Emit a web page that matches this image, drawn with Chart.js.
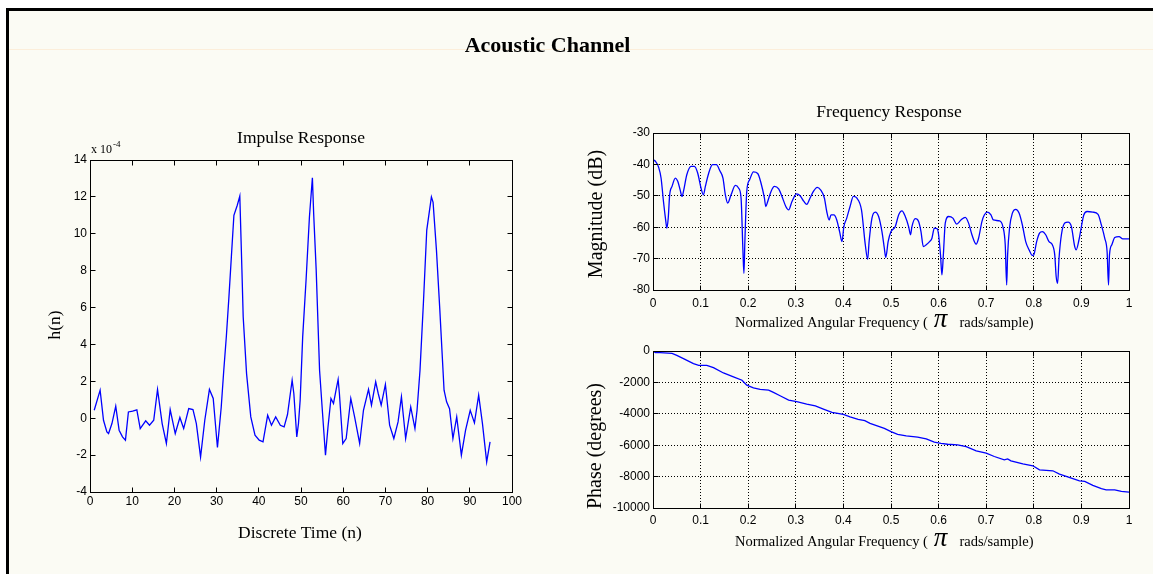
<!DOCTYPE html>
<html>
<head>
<meta charset="utf-8">
<title>Acoustic Channel</title>
<script src="https://cdn.jsdelivr.net/npm/chart.js@4.4.1/dist/chart.umd.min.js"></script>
<style>
  html, body { margin: 0; padding: 0; width: 1153px; height: 574px; overflow: hidden; background: #ffffff; }
  #frame {
    position: absolute; left: 6px; top: 8px; width: 1147px; height: 566px;
    box-sizing: border-box; border-top: 3px solid #000; border-left: 3px solid #000;
    background: #fbfbf4;
  }
  #rule { position: absolute; left: 0; right: 0; top: 38px; height: 1px; background: rgba(255, 210, 160, 0.3); }
  canvas { position: absolute; left: 0; top: 0; }
</style>
</head>
<body>
<div id="frame"><div id="rule"></div></div>
<canvas id="impulse" width="1153" height="574" style="width:1153px;height:574px"></canvas>
<canvas id="magnitude" width="1153" height="574" style="width:1153px;height:574px"></canvas>
<canvas id="phase" width="1153" height="574" style="width:1153px;height:574px"></canvas>
<script>
// ---- Impulse response h(n), values in units of 1e-4 ----
const impulseN = [
  1.0, 2.4, 3.2, 4.0, 4.4, 5.2, 6.1, 6.9, 7.7, 8.4, 9.1, 10.1, 11.1, 11.9, 13.2, 14.1, 15.1, 16.0,
  17.1, 18.1, 19.0, 20.2, 21.3, 22.2, 23.4, 24.4, 25.2, 26.2, 27.2, 28.3, 29.2, 30.2, 31.1, 31.7,
  32.3, 32.9, 33.5, 34.1, 34.9, 35.5, 36.0, 36.3, 37.1, 38.1, 39.1, 40.1, 41.0, 42.1, 43.0, 44.0,
  45.1, 46.0, 46.8, 47.9, 48.3, 49.0, 49.4, 49.8, 50.4, 51.2, 52.0, 52.7, 53.0, 53.6, 54.4, 55.0,
  55.8, 56.4, 57.1, 57.7, 58.3, 58.8, 59.1, 59.9, 60.7, 61.8, 62.7, 63.9, 64.8, 66.0, 66.7, 67.7,
  68.3, 69.0, 70.0, 71.0, 72.0, 73.0, 73.8, 74.8, 76.0, 77.0, 77.5, 78.2, 79.0, 79.8, 80.9, 81.3,
  82.1, 82.9, 83.9, 84.5, 85.2, 86.0, 86.9, 88.0, 89.0, 90.1, 91.1, 92.1, 93.0, 94.0, 94.8
];
const impulseH = [
  0.43, 1.52, -0.11, -0.74, -0.83, -0.29, 0.65, -0.65, -1.01, -1.19, 0.34, 0.38, 0.45, -0.56, -0.14, -0.38, -0.11, 1.56,
  -0.29, -1.37, 0.47, -0.83, 0.04, -0.56, 0.52, 0.47, -0.29, -2.1, -0.11, 1.56, 1.07, -1.59, 0.61, 2.6,
  4.4, 6.5, 8.75, 11.0, 11.55, 12.04, 8.03, 5.5, 2.42, 0.07, -0.92, -1.19, -1.28, 0.16, -0.38, 0.07,
  -0.38, -0.47, 0.2, 2.06, 1.34, -1.01, -0.29, 0.98, 4.41, 7.49, 10.92, 13.04, 11.1, 8.03, 2.6, 0.61,
  -2.01, -0.47, 1.07, 0.8, 1.52, 2.1, 1.34, -1.37, -1.1, 1.07, 0.07, -1.37, 0.43, 1.56, 0.71, 1.97,
  1.34, 0.71, 1.83, -0.38, -1.1, -0.2, 1.16, -1.1, 0.61, -0.56, 0.43, 2.6, 6.22, 10.2, 12.0, 11.7,
  9.1, 5.86, 1.52, 0.89, 0.52, -1.1, 0.07, -2.0, -0.65, 0.43, -0.25, 1.25, -0.29, -2.37, -1.28
];
const impulseXTicks = { min: 0, max: 100, step: 10 };
const impulseYTicks = { min: -4, max: 14, step: 2 };

// ---- Frequency response magnitude (dB) vs normalized angular frequency ----
const magFreq = [
  0.000, 0.005, 0.012, 0.017, 0.022, 0.027, 0.029, 0.032, 0.035, 0.040, 0.047, 0.052, 0.057, 0.061, 0.064,
  0.071, 0.080, 0.087, 0.094, 0.101, 0.106, 0.110, 0.117, 0.125, 0.133, 0.141, 0.147, 0.152, 0.157, 0.164,
  0.173, 0.180, 0.185, 0.189, 0.191, 0.193, 0.197, 0.203, 0.211, 0.220, 0.227, 0.234, 0.237, 0.241, 0.248,
  0.255, 0.264, 0.271, 0.279, 0.285, 0.292, 0.302, 0.309, 0.317, 0.323, 0.330, 0.337, 0.345, 0.352, 0.360,
  0.365, 0.370, 0.374, 0.380, 0.386, 0.392, 0.397, 0.401, 0.407, 0.414, 0.421, 0.428, 0.438, 0.446, 0.451,
  0.454, 0.460, 0.467, 0.474, 0.481, 0.486, 0.489, 0.494, 0.500, 0.509, 0.516, 0.523, 0.530, 0.537, 0.541,
  0.544, 0.551, 0.558, 0.563, 0.568, 0.574, 0.581, 0.586, 0.591, 0.597, 0.600, 0.604, 0.607, 0.610, 0.614,
  0.621, 0.630, 0.638, 0.647, 0.656, 0.663, 0.670, 0.679, 0.684, 0.691, 0.696, 0.703, 0.710, 0.715, 0.728,
  0.735, 0.740, 0.743, 0.745, 0.749, 0.755, 0.762, 0.769, 0.776, 0.783, 0.790, 0.797, 0.800, 0.806, 0.812,
  0.818, 0.825, 0.832, 0.839, 0.844, 0.847, 0.850, 0.853, 0.858, 0.865, 0.872, 0.879, 0.886, 0.889, 0.895,
  0.900, 0.905, 0.912, 0.924, 0.935, 0.942, 0.949, 0.954, 0.957, 0.959, 0.964, 0.970, 0.979, 0.987, 1.000
];
const magDb = [
  -38.5, -39.0, -41.0, -44.4, -51.8, -58.2, -60.3, -57.1, -49.7, -47.0, -44.4, -45.4, -48.1, -50.2, -48.6,
  -43.3, -40.6, -40.6, -42.8, -47.6, -49.7, -47.0, -42.8, -40.1, -40.1, -42.2, -44.4, -49.7, -52.3, -49.7,
  -46.7, -47.6, -50.7, -67.8, -74.7, -64.6, -48.6, -44.9, -42.4, -42.9, -46.0, -50.7, -53.4, -51.8, -48.6,
  -47.0, -47.8, -50.2, -53.4, -54.5, -51.8, -49.4, -50.0, -51.8, -52.7, -50.7, -48.6, -47.3, -48.1, -50.7,
  -55.0, -57.7, -56.1, -56.1, -57.7, -61.4, -64.6, -59.8, -57.1, -53.4, -50.2, -50.7, -54.5, -65.6, -70.2,
  -64.6, -57.1, -55.2, -56.6, -61.4, -66.7, -69.6, -64.6, -61.4, -59.8, -56.1, -54.8, -56.6, -59.8, -62.4,
  -59.8, -57.3, -58.2, -61.4, -66.2, -65.6, -64.6, -63.5, -60.3, -60.5, -62.4, -68.8, -75.2, -68.8, -58.7,
  -56.6, -57.1, -59.0, -57.7, -56.9, -58.7, -62.4, -65.4, -63.5, -58.2, -56.1, -55.2, -56.1, -57.7, -58.0,
  -59.8, -65.6, -78.4, -68.8, -60.3, -55.5, -54.3, -55.5, -59.3, -64.6, -67.2, -69.0, -68.8, -64.6, -61.9,
  -61.4, -62.4, -64.6, -65.6, -68.8, -75.7, -77.9, -69.9, -62.4, -58.7, -58.4, -59.8, -66.2, -67.2, -64.0,
  -59.8, -56.1, -55.0, -55.2, -55.9, -59.3, -63.5, -67.8, -78.4, -68.8, -65.6, -63.3, -63.0, -63.7, -63.7
];
const magYTicks = { min: -80, max: -30, step: 10 };

// ---- Frequency response phase (degrees) ----
const phaseFreq = [
  0.000, 0.005, 0.015, 0.040, 0.050, 0.064, 0.085, 0.096, 0.113, 0.127, 0.148, 0.169, 0.187, 0.197, 0.211,
  0.225, 0.243, 0.253, 0.267, 0.285, 0.302, 0.323, 0.341, 0.358, 0.376, 0.400, 0.414, 0.431, 0.445, 0.456,
  0.486, 0.500, 0.514, 0.532, 0.556, 0.574, 0.591, 0.605, 0.619, 0.640, 0.658, 0.679, 0.700, 0.717, 0.738,
  0.745, 0.752, 0.777, 0.798, 0.812, 0.840, 0.854, 0.879, 0.896, 0.907, 0.924, 0.942, 0.952, 0.970, 0.984, 1.000
];
const phaseDeg = [
  0, -100, -100, -150, -275, -490, -800, -910, -910, -1060, -1400, -1650, -1860, -2180, -2350,
  -2450, -2490, -2640, -2850, -3130, -3230, -3380, -3490, -3700, -3910, -4040, -4190, -4350, -4440, -4610,
  -4930, -5140, -5310, -5410, -5480, -5600, -5810, -5880, -5940, -5980, -6090, -6360, -6510, -6720, -6930,
  -6870, -7000, -7190, -7310, -7570, -7630, -7840, -8100, -8270, -8310, -8560, -8770, -8840, -8840, -8940, -8990
];
const phaseYTicks = { min: -10000, max: 0, step: 2000 };
const freqXTicks = { min: 0, max: 1, step: 0.1 };

// ---- shared drawing helpers ----
const PAGE_W = 1153, PAGE_H = 574;
const SERIF = '"Liberation Serif", "Times New Roman", serif';
const SANS = '"Liberation Sans", Arial, sans-serif';
const LINE_BLUE = '#0000ff';

function align(p) { return Math.round(p - 0.5) + 0.5; }

// Box outline with inward tick marks on all four sides
const boxAxes = {
  id: 'boxAxes',
  afterDatasetsDraw(chart) {
    const { ctx, chartArea: a } = chart;
    const L = align(a.left), R = align(a.right), T = align(a.top), B = align(a.bottom);
    const len = 5;
    ctx.save();
    ctx.strokeStyle = '#000';
    ctx.lineWidth = 1;
    ctx.setLineDash([]);
    ctx.beginPath();
    const xs = chart.scales.x, ys = chart.scales.y;
    xs.ticks.forEach(t => {
      const p = align(xs.getPixelForValue(t.value));
      ctx.moveTo(p, B); ctx.lineTo(p, B - len);
      ctx.moveTo(p, T); ctx.lineTo(p, T + len);
    });
    ys.ticks.forEach(t => {
      const p = align(ys.getPixelForValue(t.value));
      ctx.moveTo(L, p); ctx.lineTo(L + len, p);
      ctx.moveTo(R, p); ctx.lineTo(R - len, p);
    });
    ctx.stroke();
    ctx.strokeRect(L, T, R - L, B - T);
    ctx.restore();
  }
};

// Titles and axis labels
const labelText = {
  id: 'labelText',
  afterDraw(chart, args, opts) {
    const ctx = chart.ctx;
    (opts.items || []).forEach(it => {
      ctx.save();
      ctx.fillStyle = '#000';
      ctx.textAlign = it.align || 'center';
      ctx.textBaseline = it.baseline || 'alphabetic';
      if (it.parts) {
        // run of differently styled pieces on one baseline
        let x = it.x;
        it.parts.forEach(pt => {
          ctx.font = pt.font;
          ctx.textAlign = 'left';
          x += pt.gap || 0;
          ctx.fillText(pt.text, x, it.y + (pt.dy || 0));
          x += ctx.measureText(pt.text).width;
        });
      } else {
        ctx.font = it.font;
        ctx.translate(it.x, it.y);
        if (it.rotate) ctx.rotate(-Math.PI / 2);
        ctx.fillText(it.text, 0, 0);
      }
      ctx.restore();
    });
  }
};

function fmtTick(v) { return String(parseFloat(Number(v).toFixed(1))); }

function buildChart(id, cfg) {
  const yW = 40, xH = 30;
  const a = cfg.area;
  const axisFont = { family: SANS, size: 12 };
  return new Chart(document.getElementById(id), {
    type: 'line',
    data: {
      datasets: [{
        data: cfg.xs.map((x, i) => ({ x, y: cfg.ys[i] })),
        borderColor: LINE_BLUE,
        borderWidth: 1.3,
        pointRadius: 0,
        fill: false,
        tension: cfg.smooth ? 0.4 : 0,
        cubicInterpolationMode: cfg.smooth ? 'monotone' : 'default'
      }]
    },
    options: {
      responsive: false,
      animation: false,
      events: [],
      layout: {
        padding: { left: a.left - yW, right: PAGE_W - a.right, top: a.top, bottom: PAGE_H - a.bottom - xH }
      },
      plugins: {
        legend: { display: false },
        tooltip: { enabled: false },
        title: { display: false },
        labelText: { items: cfg.labels }
      },
      scales: {
        x: {
          type: 'linear',
          min: cfg.xTicks.min, max: cfg.xTicks.max,
          ticks: { stepSize: cfg.xTicks.step, autoSkip: false, maxRotation: 0, color: '#000',
                   font: axisFont, padding: cfg.xPad, callback: fmtTick },
          grid: { display: cfg.grid, drawTicks: false, color: '#000', lineWidth: 1 },
          border: { display: false, dash: [1, 2] },
          afterFit: s => { s.height = xH; }
        },
        y: {
          type: 'linear',
          min: cfg.yTicks.min, max: cfg.yTicks.max,
          ticks: { stepSize: cfg.yTicks.step, autoSkip: false, color: '#000',
                   font: axisFont, padding: 3, callback: fmtTick },
          grid: { display: cfg.grid, drawTicks: false, color: '#000', lineWidth: 1 },
          border: { display: false, dash: [1, 2] },
          afterFit: s => { s.width = yW; }
        }
      }
    },
    plugins: [boxAxes, labelText]
  });
}

const freqLabel = y => ({
  x: 735, y, parts: [
    { text: 'Normalized Angular Frequency (', font: '14.5px ' + SERIF },
    { text: 'π', font: 'italic 27px ' + SERIF, gap: 6 },
    { text: 'rads/sample)', font: '14.5px ' + SERIF, gap: 12 }
  ]
});

buildChart('impulse', {
  area: { left: 90, right: 512, top: 160, bottom: 492 },
  xs: impulseN, ys: impulseH,
  xTicks: impulseXTicks, yTicks: impulseYTicks,
  grid: false, smooth: false, xPad: 2,
  labels: [
    { text: 'Acoustic Channel', x: 547.5, y: 51.5, font: 'bold 22px ' + SERIF },
    { text: 'Impulse Response', x: 301, y: 143, font: '17.5px ' + SERIF },
    { text: 'Discrete Time (n)', x: 300, y: 538, font: '17.5px ' + SERIF },
    { text: 'h(n)', x: 55, y: 325, font: '17.5px ' + SERIF, rotate: true, baseline: 'middle' },
    { text: 'x 10', x: 91, y: 153, font: '12px ' + SERIF, align: 'left' },
    { text: '-4', x: 113, y: 147, font: '9px ' + SERIF, align: 'left' }
  ]
});

buildChart('magnitude', {
  area: { left: 653, right: 1129, top: 133, bottom: 290 },
  xs: magFreq, ys: magDb,
  xTicks: freqXTicks, yTicks: magYTicks,
  grid: true, smooth: true, xPad: 6,
  labels: [
    { text: 'Frequency Response', x: 889, y: 117, font: '17.5px ' + SERIF },
    { text: 'Magnitude (dB)', x: 597, y: 214, font: '20px ' + SERIF, rotate: true, baseline: 'middle' },
    freqLabel(327)
  ]
});

buildChart('phase', {
  area: { left: 653, right: 1129, top: 351, bottom: 508 },
  xs: phaseFreq, ys: phaseDeg,
  xTicks: freqXTicks, yTicks: phaseYTicks,
  grid: true, smooth: false, xPad: 5,
  labels: [
    { text: 'Phase (degrees)', x: 596, y: 446, font: '20px ' + SERIF, rotate: true, baseline: 'middle' },
    freqLabel(546)
  ]
});
</script>
</body>
</html>
